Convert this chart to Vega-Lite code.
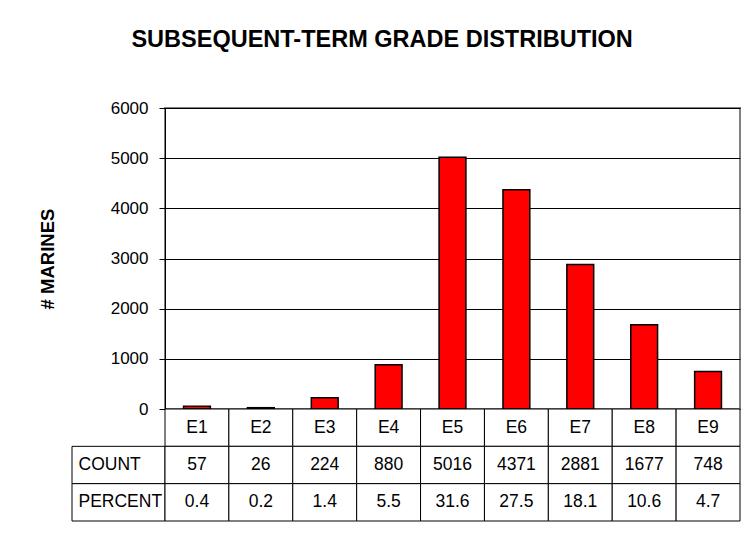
{
  "$schema": "https://vega.github.io/schema/vega-lite/v6.json",
  "background": "white",
  "padding": {"left": 37, "top": 27, "right": 0, "bottom": 0},
  "title": {
    "text": "SUBSEQUENT-TERM GRADE DISTRIBUTION",
    "font": "Liberation Sans",
    "fontSize": 23.5,
    "fontWeight": "bold",
    "color": "black",
    "anchor": "middle",
    "dx": -7,
    "offset": 47
  },
  "datasets": {
    "grades": [
      {"grade": "E1", "COUNT": 57, "PERCENT": 0.4},
      {"grade": "E2", "COUNT": 26, "PERCENT": 0.2},
      {"grade": "E3", "COUNT": 224, "PERCENT": 1.4},
      {"grade": "E4", "COUNT": 880, "PERCENT": 5.5},
      {"grade": "E5", "COUNT": 5016, "PERCENT": 31.6},
      {"grade": "E6", "COUNT": 4371, "PERCENT": 27.5},
      {"grade": "E7", "COUNT": 2881, "PERCENT": 18.1},
      {"grade": "E8", "COUNT": 1677, "PERCENT": 10.6},
      {"grade": "E9", "COUNT": 748, "PERCENT": 4.7}
    ],
    "rowlabels": [
      {"row": "COUNT"},
      {"row": "PERCENT"}
    ]
  },
  "columns": 2,
  "spacing": 0,
  "bounds": "flush",
  "concat": [
    {
      "width": 93,
      "height": 301,
      "data": {"values": []},
      "mark": "point",
      "encoding": {},
      "view": {"stroke": null}
    },
    {
      "width": 575,
      "height": 301,
      "data": {"name": "grades"},
      "mark": {"type": "bar", "fill": "#FF0000", "stroke": "black", "strokeWidth": 1.5},
      "encoding": {
        "x": {
          "field": "grade",
          "type": "nominal",
          "axis": null,
          "scale": {"paddingInner": 0.58, "paddingOuter": 0.29}
        },
        "y": {
          "field": "COUNT",
          "type": "quantitative",
          "scale": {"domain": [0, 6000]},
          "axis": {
            "title": "# MARINES",
            "values": [0, 1000, 2000, 3000, 4000, 5000, 6000],
            "format": "d",
            "grid": true,
            "gridColor": "black",
            "gridOpacity": 1,
            "domainColor": "black",
            "tickColor": "black",
            "tickSize": 6,
            "labelPadding": 11,
            "labelFont": "Liberation Sans",
            "labelFontSize": 17,
            "labelColor": "black",
            "titleFont": "Liberation Sans",
            "titleFontSize": 18.5,
            "titleFontWeight": "bold",
            "titleColor": "black",
            "titlePadding": 53
          }
        }
      },
      "view": {"stroke": "#808080", "strokeWidth": 2}
    },
    {
      "width": 93,
      "height": 112,
      "data": {"name": "rowlabels"},
      "mark": {"type": "rect", "fill": "white", "stroke": "black", "strokeWidth": 1},
      "encoding": {
        "y": {
          "field": "row",
          "type": "nominal",
          "scale": {"domain": ["grade", "COUNT", "PERCENT"], "paddingInner": 0, "paddingOuter": 0},
          "axis": {
            "title": null,
            "domain": false,
            "ticks": false,
            "labelAlign": "left",
            "labelPadding": -6,
            "labelFont": "Liberation Sans",
            "labelFontSize": 17.5,
            "labelColor": "black",
            "labelExpr": "datum.value == 'grade' ? '' : datum.value",
            "zindex": 1
          }
        }
      },
      "view": {"stroke": null}
    },
    {
      "width": 575,
      "height": 112,
      "data": {"name": "grades"},
      "transform": [{"fold": ["grade", "COUNT", "PERCENT"], "as": ["row", "val"]}],
      "encoding": {
        "x": {
          "field": "grade",
          "type": "nominal",
          "axis": null,
          "scale": {"paddingInner": 0, "paddingOuter": 0}
        },
        "y": {
          "field": "row",
          "type": "nominal",
          "axis": null,
          "sort": ["grade", "COUNT", "PERCENT"],
          "scale": {"paddingInner": 0, "paddingOuter": 0}
        }
      },
      "layer": [
        {"mark": {"type": "rect", "fill": "white", "stroke": "black", "strokeWidth": 1}},
        {
          "mark": {"type": "text", "font": "Liberation Sans", "fontSize": 17.5, "color": "black"},
          "encoding": {"text": {"field": "val", "type": "nominal"}}
        }
      ],
      "view": {"stroke": null}
    }
  ],
  "config": {"view": {"stroke": null}}
}
